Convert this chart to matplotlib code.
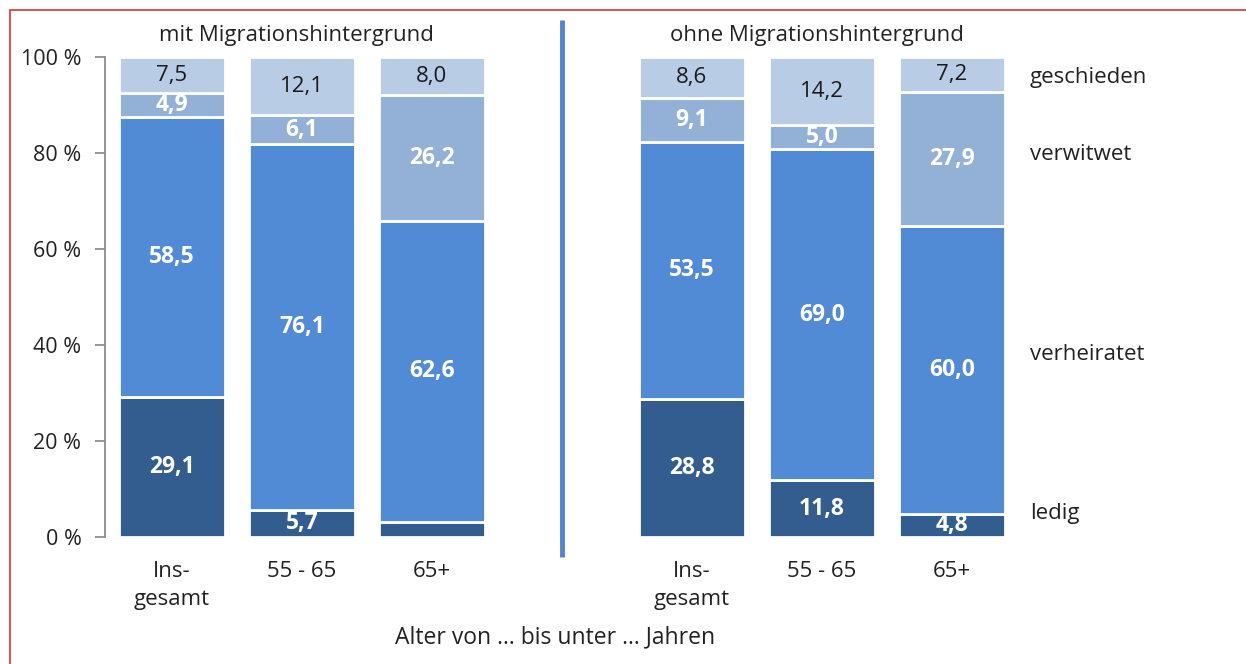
import numpy as np
import matplotlib.pyplot as plt
from matplotlib.patches import Rectangle

plt.rcParams['font.family'] = ['Open Sans', 'DejaVu Sans']

# data (percent), order: Insgesamt, 55-65, 65+ for each group
categories = ['Ins-\ngesamt', '55 - 65', '65+']
groups = ['mit Migrationshintergrund', 'ohne Migrationshintergrund']
status = ['ledig', 'verheiratet', 'verwitwet', 'geschieden']

ledig = [29.1, 5.7, 3.2, 28.8, 11.8, 4.8]
verheiratet = [58.5, 76.1, 62.6, 53.5, 69.0, 60.0]
verwitwet = [4.9, 6.1, 26.2, 9.1, 5.0, 27.9]
geschieden = [7.5, 12.1, 8.0, 8.6, 14.2, 7.2]

colors = ['#345d8f', '#528bd5', '#93b0d6', '#b8cce5']
text_colors = ['white', 'white', 'white', '#1a1a1a']
text_weights = ['bold', 'bold', 'bold', 'normal']

fig = plt.figure(figsize=(12.46, 6.64), dpi=100)
ax = fig.add_axes([105 / 1246, 127 / 664, (1030 - 105) / 1246, 480 / 664])

x = np.array([0, 1, 2, 4, 5, 6])
series = [ledig, verheiratet, verwitwet, geschieden]
bottom = np.zeros(len(x))
for vals, c, tc, tw in zip(series, colors, text_colors, text_weights):
    vals = np.array(vals)
    ax.bar(x, vals, bottom=bottom, width=0.82, color=c, edgecolor='white', linewidth=2)
    for xi, b, v in zip(x, bottom, vals):
        if v >= 4:
            ax.text(xi, b + v / 2, f'{v:.1f}'.replace('.', ','), ha='center', va='center',
                    color=tc, fontsize=16.5 if tw == 'bold' else 16, fontweight=tw)
    bottom += vals

ax.set_xlim(-0.515, 6.6)
ax.set_ylim(0, 100)
ax.set_yticks([0, 20, 40, 60, 80, 100])
ax.set_yticklabels([f'{t} %' for t in range(0, 101, 20)], fontsize=15.5, color='#222222')
ax.tick_params(axis='y', length=7, width=1.3, color='#8c8c8c', pad=10)
ax.set_xticks(x)
ax.set_xticklabels(categories * 2, fontsize=16, color='#222222', va='top', linespacing=1.45)
ax.tick_params(axis='x', length=0, pad=17)
for s in ['top', 'right', 'bottom']:
    ax.spines[s].set_visible(False)
ax.spines['left'].set_color('#8c8c8c')
ax.spines['left'].set_linewidth(1.3)

# separator line between the groups
ax.plot([3, 3], [107.7, -4.2], color='#4f86d4', linewidth=3.5, clip_on=False,
        solid_capstyle='butt')

# group titles
for gx, g in zip([1, 5], groups):
    ax.text(gx - 0.04, 104.5, g, ha='center', va='center', fontsize=16, color='#222222')

# legend labels on the right
for lbl, y in zip(status, [5, 38, 79.6, 95.8]):
    ax.text(6.6, y, lbl, ha='left', va='center', fontsize=16, color='#222222',
            clip_on=False)

fig.text(555 / 1246, 1 - 637 / 664, 'Alter von ... bis unter ... Jahren', ha='center',
         va='center', fontsize=16.5, color='#222222')

# red frame
fig.patches.append(Rectangle((10 / 1246, -0.01), 1.02, 1 - 10 / 664 + 0.01,
                             transform=fig.transFigure, fill=False,
                             edgecolor='#e03030', linewidth=1.2))

fig.savefig('out.png', dpi=100)
